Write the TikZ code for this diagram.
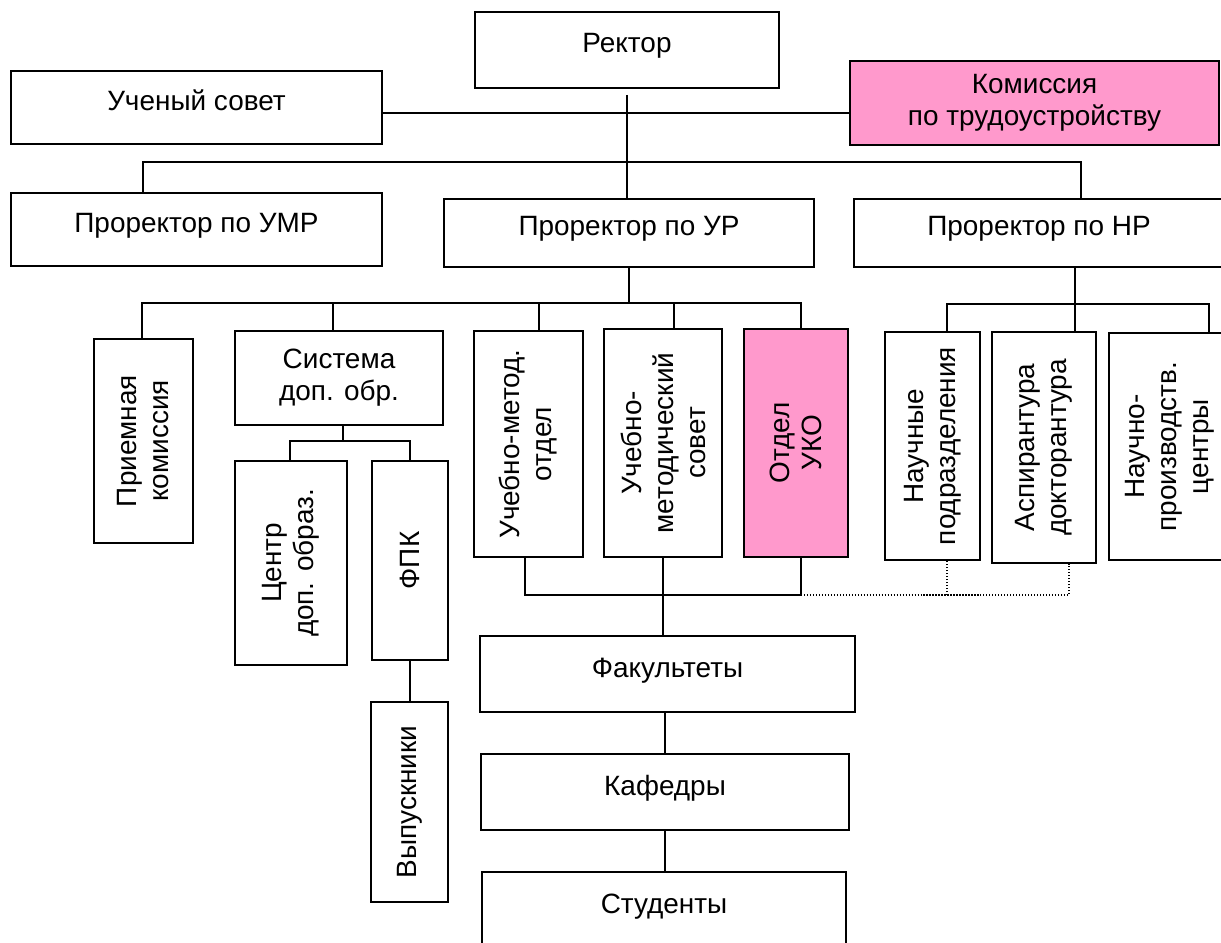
\documentclass[tikz,border=0pt]{standalone}
\usepackage{fontspec}
\setmainfont{Liberation Sans}
\usepackage{xcolor}
\definecolor{pinkbox}{RGB}{255,153,204}

\begin{document}
\begin{tikzpicture}[
    font=\fontsize{15.9}{18.2}\selectfont,
    unit/.style={draw, line width=1.1pt, inner sep=0pt, align=center},
    flat/.style={unit, text height=1.2mm, text depth=0pt},
    tall/.style={unit, rotate=90},
    link/.style={line width=1.1pt},
    dots/.style={line width=0.7pt, densely dotted},
  ]
  \clip (0,0) rectangle (24.42,-18.86);

  % upper levels
  \node[flat, minimum width=6.08cm, minimum height=1.52cm] (rector) at (12.54,-1.00) {Ректор};
  \node[flat, minimum width=7.42cm, minimum height=1.46cm] (council) at (3.93,-2.15) {Ученый совет};
  \node[unit, fill=pinkbox, minimum width=7.38cm, minimum height=1.68cm] (commission) at (20.69,-2.06) {Комиссия\\по трудоустройству};
  \node[flat, minimum width=7.42cm, minimum height=1.46cm] (umr) at (3.93,-4.59) {Проректор по УМР};
  \node[flat, minimum width=7.40cm, minimum height=1.36cm] (ur) at (12.58,-4.66) {Проректор по УР};
  \node[flat, minimum width=7.40cm, minimum height=1.36cm] (nr) at (20.78,-4.66) {Проректор по НР};

  % departments
  \node[tall, minimum width=4.08cm, minimum height=1.98cm] (admit) at (2.87,-8.82) {Приемная\\комиссия};
  \node[unit, minimum width=4.16cm, minimum height=1.88cm] (extra) at (6.78,-7.56) {Система\\доп. обр.};
  \node[tall, minimum width=4.08cm, minimum height=2.24cm] (centre) at (5.82,-11.26) {Центр\\доп. образ.};
  \node[tall, minimum width=3.98cm, minimum height=1.52cm] (fpk) at (8.20,-11.21) {ФПК};
  \node[tall, minimum width=4.00cm, minimum height=1.54cm] (grads) at (8.19,-16.04) {Выпускники};
  \node[tall, minimum width=4.52cm, minimum height=2.18cm] (umo) at (10.57,-8.88) {Учебно-метод.\\отдел};
  \node[tall, minimum width=4.56cm, minimum height=2.36cm] (ums) at (13.26,-8.86) {Учебно-\\методический\\совет};
  \node[tall, fill=pinkbox, minimum width=4.56cm, minimum height=2.08cm] (uko) at (15.92,-8.86) {Отдел\\УКО};
  \node[tall, minimum width=4.56cm, minimum height=1.90cm] (sci) at (18.65,-8.92) {Научные\\подразделения};
  \node[tall, minimum width=4.62cm, minimum height=2.08cm] (asp) at (20.88,-8.95) {Аспирантура\\докторантура};
  \node[tall, minimum width=4.54cm, minimum height=2.44cm] (npc) at (23.40,-8.93) {Научно-\\производств.\\центры};

  % faculties
  \node[flat, minimum width=7.50cm, minimum height=1.52cm] (fac) at (13.35,-13.48) {Факультеты};
  \node[flat, minimum width=7.36cm, minimum height=1.52cm] (dept) at (13.30,-15.84) {Кафедры};
  \node[flat, minimum width=7.28cm, minimum height=1.52cm] (stud) at (13.28,-18.20) {Студенты};

  % bus points
  \coordinate (mid) at (12.54,-2.26);
  \coordinate (a1) at (2.86,-3.24);
  \coordinate (a2) at (21.62,-3.24);
  \coordinate (b1) at (2.84,-6.06);
  \coordinate (b2) at (6.66,-6.06);
  \coordinate (b3) at (10.78,-6.06);
  \coordinate (b4) at (13.48,-6.06);
  \coordinate (b5) at (16.02,-6.06);
  \coordinate (s0) at (6.86,-8.82);
  \coordinate (s1) at (5.80,-8.82);
  \coordinate (s2) at (8.20,-8.82);
  \coordinate (c0) at (21.50,-6.08);
  \coordinate (c1) at (18.94,-6.08);
  \coordinate (c2) at (24.18,-6.08);
  \coordinate (e1) at (10.50,-11.90);
  \coordinate (e2) at (16.02,-11.90);
  \coordinate (e3) at (18.94,-11.90);
  \coordinate (e4) at (21.38,-11.90);

  \draw[link] (council.east |- mid) -- (commission.west |- mid);
  \draw[link] ([yshift=-0.12cm]rector.south) -- (rector.south |- ur.north);
  \draw[link] (a1 |- umr.north) -- (a1) -- (a2) -- (a2 |- nr.north);

  \draw[link] (ur.south) -- (ur.south |- b1);
  \draw[link] (b1 |- admit.east) -- (b1) -- (b5) -- (b5 |- uko.east);
  \draw[link] (b2) -- (b2 |- extra.north);
  \draw[link] (b3) -- (b3 |- umo.east);
  \draw[link] (b4) -- (b4 |- ums.east);

  \draw[link] (s0 |- extra.south) -- (s0);
  \draw[link] (s1 |- centre.east) -- (s1) -- (s2) -- (s2 |- fpk.east);
  \draw[link] (fpk.west) -- (fpk.west |- grads.east);

  \draw[link] (c0 |- nr.south) -- (c0 |- asp.east);
  \draw[link] (c1 |- sci.east) -- (c1) -- (c2) -- (c2 |- npc.east);

  \draw[link] (e1 |- umo.west) -- (e1) -- (e2) -- (e2 |- uko.west);
  \draw[link] (ums.west) -- (ums.west |- fac.north);
  \draw[dots] (e2) -- (e4) -- (e4 |- asp.west);
  \draw[dots] (e3) -- (e3 |- sci.west);

  \draw[link] (dept.north |- fac.south) -- (dept.north);
  \draw[link] (dept.south) -- (dept.south |- stud.north);
\end{tikzpicture}
\end{document}
